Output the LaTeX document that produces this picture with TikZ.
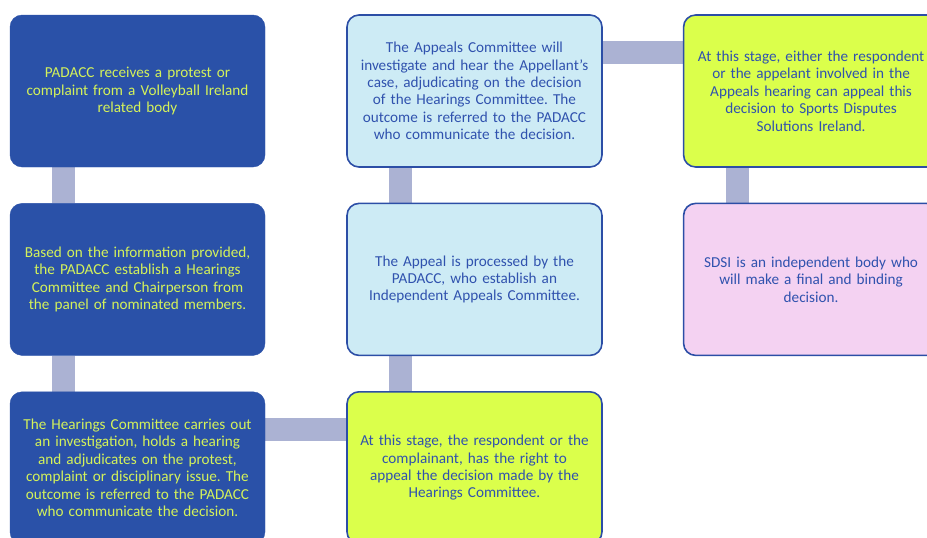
\documentclass[tikz,border=0pt]{standalone}
\usepackage{fontspec}
\setmainfont{Carlito}
\frenchspacing
\usetikzlibrary{positioning,backgrounds}
\definecolor{darkbox}{HTML}{2A51A8}
\definecolor{limetext}{HTML}{D4F25A}
\definecolor{textblue}{HTML}{3052AE}
\definecolor{edgeblue}{HTML}{2C4EA6}
\definecolor{paleblue}{HTML}{CDEBF5}
\definecolor{limebox}{HTML}{DBFF4B}
\definecolor{pinkbox}{HTML}{F4D2F2}
\definecolor{barblue}{HTML}{ABB2D3}

\begin{document}
\begin{tikzpicture}[x=1pt,y=-1pt,
    main/.style = {rounded corners=12pt, minimum width=255pt, minimum height=152pt,
        text width=244pt, align=center, inner sep=0pt,
        font=\fontsize{15.2}{17.4}\selectfont},
    dark/.style = {main, fill=darkbox, draw=darkbox, text=limetext},
    light/.style = {main, draw=edgeblue, line width=1.6pt, text=textblue},
    bar/.style = {draw=barblue, line width=23pt}]
    \useasboundingbox (0,0) rectangle (927,538);
    \clip (0,0) rectangle (927,538);

    % first column
    \node[dark](1) at (137.5,91) {PADACC receives a protest or\\complaint from a Volleyball Ireland\\related body};
    \node[dark](2)[below=36pt of 1] {Based on the information provided,\\the PADACC establish a Hearings\\Committee and Chairperson from\\the panel of nominated members.};
    \node[dark](3)[below=36pt of 2] {The Hearings Committee carries out\\an investigation, holds a hearing\\and adjudicates on the protest,\\complaint or disciplinary issue. The\\outcome is referred to the PADACC\\who communicate the decision.};

    % second column
    \node[light, fill=paleblue](4)[right=81pt of 1] {The Appeals Committee will\\investigate and hear the Appellant's\\case, adjudicating on the decision\\of the Hearings Committee. The\\outcome is referred to the PADACC\\who communicate the decision.};
    \node[light, fill=paleblue](5)[right=81pt of 2] {The Appeal is processed by the\\PADACC, who establish an\\Independent Appeals Committee.};
    \node[light, fill=limebox](6)[right=81pt of 3] {At this stage, the respondent or the\\complainant, has the right to\\appeal the decision made by the\\Hearings Committee.};

    % third column
    \node[light, fill=limebox](7)[right=80pt of 4] {At this stage, either the respondent\\or the appelant involved in the\\Appeals hearing can appeal this\\decision to Sports Disputes\\Solutions Ireland.};
    \node[light, fill=pinkbox](8)[right=80pt of 5] {SDSI is an independent body who\\will make a final and binding\\decision.};

    \begin{scope}[on background layer]
        \draw[bar] ([xshift=-74pt]1.south) -- ([xshift=-74pt]2.north);
        \draw[bar] ([xshift=-74pt]2.south) -- ([xshift=-74pt]3.north);
        \draw[bar] ([yshift=38pt]3.east) -- ([yshift=38pt]6.west);
        \draw[bar] ([xshift=-74pt]6.north) -- ([xshift=-74pt]5.south);
        \draw[bar] ([xshift=-74pt]5.north) -- ([xshift=-74pt]4.south);
        \draw[bar] ([yshift=39pt]4.east) -- ([yshift=39pt]7.west);
        \draw[bar] ([xshift=-74pt]7.south) -- ([xshift=-74pt]8.north);
    \end{scope}
\end{tikzpicture}
\end{document}
